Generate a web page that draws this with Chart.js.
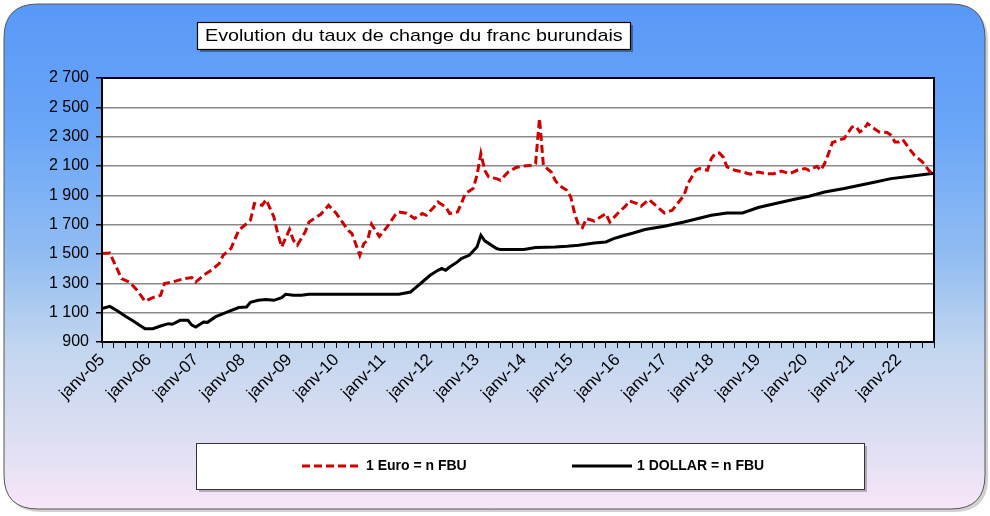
<!DOCTYPE html>
<html><head><meta charset="utf-8">
<script src="https://cdn.jsdelivr.net/npm/chart.js@4.4.0/dist/chart.umd.min.js"></script>
<style>html,body{margin:0;padding:0;background:#fff;}#wrap{width:990px;height:516px;position:relative;}</style>
</head><body><div id="wrap"><canvas id="c" width="990" height="516"></canvas></div>
<script>
// Month index since janv-2005 (0 = janv-05)
const euroMonths = [0,2,5,7,9,11,13,15,16,18,21,23,24,26,28,30,31,33,35,36,38,39,41,42,44,45,46,48,49,50,52,53,56,58,60,63,64,66,67,68,69,71,73,75,76,78,80,82,83,85,86,88,89,91,92,93,95,96,97,98,99,101,102,104,106,108,110,111,112,113,115,116,117,119,120,121,122,123,124,126,127,129,130,132,134,135,137,138,140,142,144,146,147,149,150,152,153,155,156,157,158,159,160,162,164,166,168,170,172,174,176,178,180,181,183,184,185,186,187,189,190,192,193,194,195,196,198,199,201,202,203,204,205,207,208,210,211,212,213];
const euroRates = [1503,1507,1332,1309,1253,1178,1203,1218,1298,1309,1332,1339,1309,1355,1389,1435,1491,1537,1662,1684,1730,1844,1832,1871,1753,1639,1548,1667,1594,1560,1650,1718,1771,1832,1776,1662,1639,1491,1570,1594,1703,1620,1685,1764,1787,1778,1742,1776,1764,1821,1855,1821,1776,1787,1844,1912,1946,2037,2185,2070,2025,2014,2003,2059,2090,2100,2105,2117,2424,2105,2059,2003,1969,1935,1889,1776,1696,1680,1742,1725,1742,1776,1718,1776,1826,1862,1844,1826,1871,1825,1780,1798,1832,1900,1980,2071,2083,2071,2151,2185,2189,2162,2094,2071,2059,2044,2059,2048,2048,2066,2048,2071,2083,2071,2098,2071,2117,2185,2260,2280,2287,2366,2371,2332,2350,2389,2349,2332,2328,2310,2264,2264,2280,2207,2173,2128,2094,2059,2048];
const usdMonths = [0,2,4,6,8,10,11,13,15,17,18,20,22,23,24,26,27,29,32,35,37,38,40,42,44,46,47,49,51,53,74,76,79,80,82,84,86,87,88,89,91,92,94,96,97,98,101,102,108,111,116,119,122,126,129,131,133,136,139,144,149,156,160,164,168,173,177,181,185,190,194,198,202,207,213];
const usdRates = [1128,1143,1111,1075,1043,1007,991,991,1009,1025,1021,1048,1048,1015,1002,1036,1034,1071,1103,1135,1139,1171,1184,1189,1184,1203,1225,1218,1218,1225,1225,1225,1241,1264,1309,1355,1389,1401,1389,1411,1446,1469,1491,1548,1628,1590,1537,1530,1530,1544,1548,1553,1560,1575,1582,1605,1621,1643,1667,1689,1718,1764,1780,1780,1817,1848,1871,1894,1923,1946,1969,1991,2014,2030,2050];
const yearLabels = ['janv-05','janv-06','janv-07','janv-08','janv-09','janv-10','janv-11','janv-12','janv-13','janv-14','janv-15','janv-16','janv-17','janv-18','janv-19','janv-20','janv-21','janv-22'];
const yTicks = [900,1100,1300,1500,1700,1900,2100,2300,2500,2700];
const yTickLabels = ['900','1 100','1 300','1 500','1 700','1 900','2 100','2 300','2 500','2 700'];
const seriesLabels = ['1 Euro = n FBU','1 DOLLAR = n FBU'];
const titleText = 'Evolution du taux de change du franc burundais';
const lastMonth = 213;

const FONT = '"Liberation Sans", Arial, sans-serif';

function rr(ctx,x,y,w,h,r){ctx.beginPath();ctx.moveTo(x+r,y);ctx.lineTo(x+w-r,y);ctx.quadraticCurveTo(x+w,y,x+w,y+r);ctx.lineTo(x+w,y+h-r);ctx.quadraticCurveTo(x+w,y+h,x+w-r,y+h);ctx.lineTo(x+r,y+h);ctx.quadraticCurveTo(x,y+h,x,y+h-r);ctx.lineTo(x,y+r);ctx.quadraticCurveTo(x,y,x+r,y);ctx.closePath();}

const deco = {
  id:'deco',
  beforeDraw(chart){
    const ctx = chart.ctx, a = chart.chartArea;
    ctx.save();
    ctx.fillStyle='#fff';ctx.fillRect(0,0,990,516);
    ctx.fillStyle='rgba(0,0,0,0.18)';rr(ctx,7,7,981,505,34);ctx.fill();
    const g = ctx.createLinearGradient(0,4,0,510);
    g.addColorStop(0,'#5898f8');g.addColorStop(0.25,'#6aa6f7');g.addColorStop(0.5,'#92bdf2');
    g.addColorStop(0.68,'#c2d6ef');g.addColorStop(0.85,'#dcdef2');g.addColorStop(1,'#f8e6f8');
    ctx.fillStyle=g;rr(ctx,4,4,981,505,34);ctx.fill();
    ctx.strokeStyle='#555';ctx.lineWidth=1;ctx.stroke();
    // title box
    ctx.fillStyle='rgba(0,0,0,0.35)';ctx.fillRect(200,25,433,27);
    ctx.fillStyle='#fff';ctx.fillRect(197,22,433,27);
    ctx.strokeStyle='#000';ctx.lineWidth=1.2;ctx.strokeRect(197.5,22.5,433,27);
    ctx.save();
    ctx.translate(205,36);ctx.scale(1.16,1);
    ctx.fillStyle='#000';ctx.font='17px '+FONT;ctx.textBaseline='middle';ctx.textAlign='left';
    ctx.fillText(titleText,0,0);
    ctx.restore();
    // plot area
    ctx.fillStyle='#fff';ctx.fillRect(a.left,a.top,a.right-a.left,a.bottom-a.top);
    ctx.restore();
  },
  afterDraw(chart){
    const ctx = chart.ctx, a = chart.chartArea;
    ctx.save();
    ctx.strokeStyle='#000';ctx.lineWidth=2;
    ctx.strokeRect(a.left,a.top,a.right-a.left,a.bottom-a.top);
    // legend box
    ctx.fillStyle='rgba(0,0,0,0.25)';ctx.fillRect(199,446,668,46);
    ctx.fillStyle='#fff';ctx.fillRect(196,443,668,46);
    ctx.strokeStyle='#333';ctx.lineWidth=1;ctx.strokeRect(196.5,443.5,668,46);
    const ds = chart.data.datasets;
    const items=[{x0:302,x1:362,tx:366},{x0:572,x1:632,tx:637}];
    ctx.font='bold 14px "Liberation Sans Narrow", "Liberation Sans", Arial, sans-serif';
    ctx.textBaseline='middle';ctx.textAlign='left';
    items.forEach((it,i)=>{
      ctx.beginPath();ctx.strokeStyle=ds[i].borderColor;ctx.lineWidth=3;
      ctx.setLineDash(ds[i].borderDash||[]);
      ctx.moveTo(it.x0,466);ctx.lineTo(it.x1,466);ctx.stroke();ctx.setLineDash([]);
      ctx.fillStyle='#000';ctx.fillText(ds[i].label,it.tx,466);
    });
    ctx.restore();
  }
};

const euroData = euroMonths.map((m,i)=>({x:m,y:euroRates[i]}));
const usdData = usdMonths.map((m,i)=>({x:m,y:usdRates[i]}));

new Chart(document.getElementById('c'),{
  type:'line',
  data:{datasets:[
    {label:seriesLabels[0],data:euroData,borderColor:'#cc0000',borderWidth:3,borderDash:[8,4],pointRadius:0,tension:0,fill:false},
    {label:seriesLabels[1],data:usdData,borderColor:'#000000',borderWidth:3,pointRadius:0,tension:0,fill:false}
  ]},
  options:{
    responsive:false,animation:false,devicePixelRatio:1,
    layout:{padding:{left:0,top:78,right:56,bottom:0}},
    plugins:{legend:{display:false},tooltip:{enabled:false}},
    scales:{
      x:{type:'linear',min:0,max:lastMonth,
        afterBuildTicks(s){const t=[];for(let m=0;m<=lastMonth;m+=3)t.push({value:m});s.ticks=t;},
        afterFit(s){s.height=174;},
        ticks:{autoSkip:false,maxRotation:45,minRotation:45,padding:2,color:'#000',font:{family:FONT,size:17},
          callback(v){return v%12===0?yearLabels[v/12]:'';}},
        grid:{drawOnChartArea:false,drawTicks:true,tickLength:6,tickColor:'#000',color:'#000',lineWidth:1},
        border:{display:true,color:'#000',width:2}
      },
      y:{min:900,max:2700,
        afterBuildTicks(s){s.ticks=yTicks.map(v=>({value:v}));},
        afterFit(s){s.width=102;},
        ticks:{padding:7,color:'#000',font:{family:FONT,size:16},
          callback(v){const i=yTicks.indexOf(v);return i>=0?yTickLabels[i]:'';}},
        grid:{color:'#8a8a8a',lineWidth:1.5,tickColor:'#000',tickLength:6},
        border:{display:true,color:'#000',width:2}
      }
    }
  },
  plugins:[deco]
});
</script></body></html>
